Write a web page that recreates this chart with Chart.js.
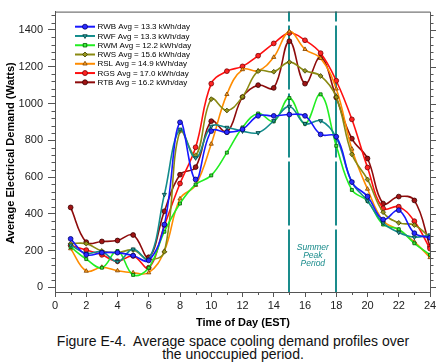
<!DOCTYPE html>
<html><head><meta charset="utf-8">
<script src="https://cdn.jsdelivr.net/npm/chart.js@4/dist/chart.umd.min.js"></script>
<style>
html,body{margin:0;padding:0;background:#fff;}
#wrap{position:relative;width:445px;height:362px;overflow:hidden;}
canvas{position:absolute;left:0;top:0;}
#cap{position:absolute;left:0;top:335px;width:466px;text-align:center;font:14px "Liberation Sans",Arial,sans-serif;line-height:13px;color:#111;white-space:pre;}
</style></head><body>
<div id="wrap"><canvas id="c" width="445" height="332"></canvas>
<div id="cap">Figure E-4.  Average space cooling demand profiles over
the unoccupied period.</div></div>
<script>
// ---- data ----
const hours = [1,2,3,4,5,6,7,8,9,10,11,12,13,14,15,16,17,18,19,20,21,22,23,24];
const seriesNames = ["RWB","RWF","RWM","RWS","RSL","RGS","RTB"];
const seriesAvg = ["13.3","13.3","12.2","15.6","14.9","17.0","16.2"];
const rwb = [264,178,189,189,173,147,342,898,587,850,844,860,933,933,940,933,832,820,573,495,369,420,295,270];
const rwf = [230,185,194,140,208,152,505,860,704,876,870,850,841,906,984,890,906,815,573,470,351,299,273,285];
const rwm = [220,154,107,198,68,107,303,456,560,609,733,870,946,903,1030,890,1050,770,530,470,342,316,240,177];
const rws = [238,238,198,189,203,152,194,850,718,1024,962,1037,1176,1173,1225,1178,1150,1035,724,587,409,351,339,273];
const rsl = [211,89,110,91,80,80,198,482,556,780,1050,1185,1178,1252,1391,1295,1246,1080,753,535,362,313,248,163];
const rgs = [229,203,177,142,171,107,337,565,762,1108,1176,1202,1260,1327,1383,1344,1274,1124,914,652,430,439,360,211];
const rtb = [435,246,250,255,285,164,414,613,654,904,845,1035,1100,1085,1339,1108,1252,1033,809,701,456,494,473,222];
const yTickValues = [0,200,400,600,800,1000,1200,1400];
const xTickValues = [0,2,4,6,8,10,12,14,16,18,20,22,24];
const peakPeriod = [15,18];
const peakLabel = ["Summer","Peak","Period"];

// ---- styles ----
const styles = [
  {line:'#1818ff', fill:'#2a2aff', border:'#00006a', ps:'circle', rot:0},
  {line:'#138c8c', fill:'#2a9d9d', border:'#003c3c', ps:'triangle', rot:180},
  {line:'#22ee22', fill:'#3cf03c', border:'#005a00', ps:'rect', rot:0},
  {line:'#8a8a12', fill:'#95951c', border:'#3c3c00', ps:'rectRot', rot:0},
  {line:'#ff8c00', fill:'#ffa020', border:'#7a4000', ps:'triangle', rot:0},
  {line:'#ff1010', fill:'#ff2424', border:'#7a0000', ps:'circle', rot:0},
  {line:'#8e0b0b', fill:'#a01414', border:'#3a0000', ps:'circle', rot:0}
];
const allSeries = [rwb,rwf,rwm,rws,rsl,rgs,rtb];

const datasets = allSeries.map((vals,i)=>({
  label: seriesNames[i] + ' Avg = ' + seriesAvg[i] + ' kWh/day',
  data: hours.map((h,j)=>({x:h, y:vals[j]})),
  borderColor: styles[i].line,
  backgroundColor: styles[i].fill,
  pointBackgroundColor: styles[i].fill,
  pointBorderColor: styles[i].border,
  pointBorderWidth: 0.8,
  pointStyle: styles[i].ps,
  pointRotation: styles[i].rot,
  pointRadius: styles[i].ps==='rect' ? 2.1 : 2.4,
  borderWidth: 1.6,
  tension: 0.4,
  fill: false
}));

const FONT = '"Liberation Sans", Arial, sans-serif';

const decor = {
  id:'decor',
  beforeDatasetsDraw(chart){
    const ctx = chart.ctx, x = chart.scales.x, a = chart.chartArea;
    ctx.save();
    ctx.strokeStyle = '#1a8c8c';
    ctx.lineWidth = 2;
    ctx.setLineDash([64,4]);
    ctx.lineDashOffset = 54;
    peakPeriod.forEach(v=>{
      const px = Math.round(x.getPixelForValue(v));
      ctx.beginPath(); ctx.moveTo(px, a.top); ctx.lineTo(px, a.bottom); ctx.stroke();
    });
    ctx.setLineDash([]);
    const cx = (x.getPixelForValue(peakPeriod[0]) + x.getPixelForValue(peakPeriod[1]))/2;
    ctx.fillStyle = '#1a8c8c';
    ctx.font = 'italic 8.5px ' + FONT;
    ctx.textAlign = 'center'; ctx.textBaseline = 'middle';
    peakLabel.forEach((t,k)=>ctx.fillText(t, cx, 248 + k*8));
    ctx.restore();
  },
  afterDraw(chart){
    const ctx = chart.ctx, a = chart.chartArea, x = chart.scales.x, y = chart.scales.y;
    ctx.save();
    ctx.strokeStyle = '#555'; ctx.lineWidth = 1;
    ctx.beginPath();
    ctx.moveTo(a.left, a.top + 0.5); ctx.lineTo(a.right + 0.5, a.top + 0.5);
    ctx.lineTo(a.right + 0.5, a.bottom);
    ctx.stroke();
    ctx.beginPath();
    for (let v = 0; v <= 1480; v += 40) {
      const py = Math.round(y.getPixelForValue(v)) + 0.5;
      const major = v % 200 === 0 && v <= 1400;
      ctx.moveTo(a.right, py); ctx.lineTo(a.right + (major ? 6 : 3.5), py);
      if (!major) { ctx.moveTo(a.left - 3.5, py); ctx.lineTo(a.left, py); }
    }
    for (let h = 1; h < 24; h += 2) {
      const px = Math.round(x.getPixelForValue(h)) + 0.5;
      ctx.moveTo(px, a.bottom); ctx.lineTo(px, a.bottom + 3);
    }
    ctx.stroke();
    ctx.fillStyle = '#000';
    ctx.font = 'bold 11px ' + FONT;
    ctx.textAlign = 'center'; ctx.textBaseline = 'middle';
    ctx.fillText('Time of Day (EST)', (a.left + a.right)/2 + 0.5, 323);
    ctx.save();
    ctx.translate(11, 153); ctx.rotate(-Math.PI/2);
    ctx.fillText('Average Electrical Demand (Watts)', 0, 0);
    ctx.restore();
    ctx.font = '8px ' + FONT;
    ctx.textAlign = 'left';
    chart.data.datasets.forEach((ds,i)=>{
      const ly = 26.7 + i*9.27;
      ctx.strokeStyle = ds.borderColor; ctx.lineWidth = 2;
      ctx.beginPath(); ctx.moveTo(75, ly); ctx.lineTo(95, ly); ctx.stroke();
      ctx.fillStyle = ds.pointBackgroundColor; ctx.strokeStyle = ds.pointBorderColor; ctx.lineWidth = 0.8;
      Chart.helpers.drawPoint(ctx, {pointStyle: ds.pointStyle, rotation: ds.pointRotation, radius: 2.5, borderWidth: 0.8}, 85, ly);
      ctx.fillStyle = '#000';
      ctx.fillText(ds.label, 97.5, ly + 0.5);
    });
    ctx.restore();
  }
};

new Chart(document.getElementById('c'), {
  type: 'line',
  data: { datasets },
  options: {
    responsive: false,
    devicePixelRatio: 1,
    animation: false,
    layout: { padding: { top: 2, right: 15, left: 0, bottom: 0 } },
    plugins: { legend: { display: false }, tooltip: { enabled: false }, title: { display: false } },
    scales: {
      x: {
        type: 'linear', min: 0, max: 24,
        afterBuildTicks: s => { s.ticks = xTickValues.map(v=>({value:v})); },
        afterFit: s => { s.height = 40; },
        grid: { drawOnChartArea: false, drawTicks: true, tickLength: 5, tickColor: '#555' },
        border: { display: true, color: '#555', width: 1 },
        ticks: { font: { size: 11, family: FONT }, color: '#222', padding: 2, maxRotation: 0, autoSkip: false, callback: v => String(v) }
      },
      y: {
        type: 'linear', min: -25, max: 1500,
        afterBuildTicks: s => { s.ticks = yTickValues.map(v=>({value:v})); },
        afterFit: s => { s.width = 55; },
        grid: { drawOnChartArea: false, drawTicks: true, tickLength: 7, tickColor: '#555' },
        border: { display: true, color: '#555', width: 1 },
        ticks: { font: { size: 11, family: FONT }, color: '#222', padding: 5, autoSkip: false, callback: v => String(v) }
      }
    }
  },
  plugins: [decor]
});
</script>
</body></html>
